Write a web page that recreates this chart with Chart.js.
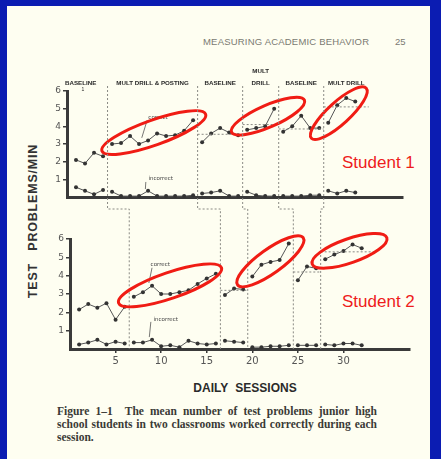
<!DOCTYPE html>
<html>
<head>
<meta charset="utf-8">
<script src="https://cdn.jsdelivr.net/npm/chart.js@4.4.1/dist/chart.umd.min.js"></script>
<style>
html, body { margin: 0; padding: 0; width: 441px; height: 459px; overflow: hidden; background: #0b1cb2; }
#page { position: absolute; left: 7px; top: 6px; width: 423px; height: 453px; background: #fefef1; }
canvas { position: absolute; left: 0; top: 0; }
.txt { position: absolute; white-space: nowrap; }
#runhead { left: 203px; top: 36px; font: 9.5px 'Liberation Sans', sans-serif; color: #7a7a72; letter-spacing: 0.2px; }
#pageno { left: 395px; top: 36px; font: 9.5px 'Liberation Sans', sans-serif; color: #7a7a72; }
#ytitle { left: 33px; top: 221px; transform: translate(-50%, -50%) rotate(-90deg); font: bold 12.5px 'Liberation Sans', sans-serif; color: #333; letter-spacing: 0.8px; word-spacing: 8px; }
#xtitle { left: 245px; top: 388px; transform: translate(-50%, -50%); font: bold 12px 'Liberation Sans', sans-serif; color: #2a2a2a; word-spacing: 4px; }
#caption { position: absolute; left: 57px; top: 405px; width: 320px; font: bold 11.5px 'Liberation Serif', serif; line-height: 13px; color: #3a3a36; }
#caption .j { text-align: justify; text-align-last: justify; }
.student { font: 17px 'Liberation Sans', Arial, sans-serif; color: #ee1c1c; transform: translateY(-50%); }
</style>
</head>
<body>
<div id="page"></div>
<div class="txt" id="runhead">MEASURING ACADEMIC BEHAVIOR</div>
<div class="txt" id="pageno">25</div>
<div class="txt" id="ytitle">TEST PROBLEMS/MIN</div>
<div class="txt" id="xtitle">DAILY SESSIONS</div>
<div id="caption">
  <div class="j">Figure 1–1&nbsp; The mean number of test problems junior high</div>
  <div class="j">school students in two classrooms worked correctly during each</div>
  <div>session.</div>
</div>
<div class="txt student" style="left:342px; top:163px;">Student 1</div>
<div class="txt student" style="left:342px; top:302px;">Student 2</div>
<canvas id="topChart" width="441" height="459"></canvas>
<canvas id="bottomChart" width="441" height="459"></canvas>
<script>
// sessions and values
const sessions = [1,2,3,4,5,6,7,8,9,10,11,12,13,14,15,16,17,18,19,20,21,22,23,24,25,26,27,28,29,30,31,32];

const topCorrect = [2.1,1.9,2.5,2.3, 3.0,3.05,3.45,3.0,3.2,3.6,3.45,3.5,3.75,4.35, 3.1,3.6,3.9,3.65,3.5, 3.8,3.9,4.0,5.0, 3.7,4.0,4.6,3.9,3.9, 4.2,5.2,5.6,5.4];
const topIncorrect = [0.55,0.35,0.15,0.4, 0.3,0.05,0.05,0.05,0.35,0.05,0.05,0.05,0.05,0.1, 0.2,0.25,0.35,0.05,0.05, 0.3,0.1,0.05,0.05, 0.05,0.05,0.05,0.1,0.1, 0.35,0.2,0.35,0.25];
const topPhaseStarts = [1,5,15,20,24,29];
const topPhaseMeans = [null,null,3.55,4.1,3.85,5.1];

const bottomCorrect = [2.15,2.45,2.25,2.5,1.6,2.3, 2.85,3.1,3.45,3.0,3.0,3.1,3.2,3.55,3.85,4.1, 2.95,3.3,3.25, 3.95,4.6,4.75,4.85,5.75, 3.75,4.5,4.4, 4.9,5.15,5.35,5.7,5.5];
const bottomIncorrect = [0.25,0.35,0.5,0.25,0.4,0.3, 0.35,0.35,0.5,0.15,0.2,0.1,0.45,0.3,0.25,0.3, 0.45,0.4,0.35, 0.1,0.1,0.15,0.15,0.2, 0.2,0.2,0.2, 0.25,0.2,0.3,0.3,0.2];
const bottomPhaseStarts = [1,7,17,20,25,28];
const bottomPhaseMeans = [null,null,3.2,null,4.2,5.3];

const phaseNames = ['BASELINE', 'MULT DRILL & POSTING', 'BASELINE', 'MULT\nDRILL', 'BASELINE', 'MULT DRILL'];
const xTickValues = [5,10,15,20,25,30];
const yTickValues = [1,2,3,4,5,6];

Chart.defaults.font.family = "'DejaVu Sans', sans-serif";

const RED = '#f01c14';
const INK = '#3a3a3a';
const DASH = '#8a8a84';

function phaseSets(values, starts) {
    return starts.map((s, i) => {
        const e = i + 1 < starts.length ? starts[i + 1] : Infinity;
        const pts = [];
        sessions.forEach((x, k) => {
            if (x >= s && x < e) pts.push({ x: x, y: values[k] });
        });
        return {
            data: pts,
            borderColor: '#555',
            borderWidth: 1,
            pointRadius: 2,
            pointBackgroundColor: '#333',
            pointBorderWidth: 0,
            tension: 0,
            clip: false
        };
    });
}

// extra marks per chart: phase means, notes, red ellipses
const extras = {
    topChart: {
        starts: topPhaseStarts,
        means: topPhaseMeans,
        names: phaseNames,
        notes: [
            { text: 'correct', at: [10.1, 4.5], from: [8.9, 4.35], to: [8.3, 3.35] },
            { text: 'incorrect', at: [10.4, 1.02], from: [8.75, 0.85], to: [8.7, 0.45] }
        ],
        rings: [
            { p1: [3.88, 2.60], p2: [15.39, 4.69], b: 12.5 },
            { p1: [18.27, 3.67], p2: [26.36, 5.48], b: 11 },
            { p1: [27.13, 3.33], p2: [33.22, 6.16], b: 11 }
        ]
    },
    bottomChart: {
        starts: bottomPhaseStarts,
        means: bottomPhaseMeans,
        names: null,
        notes: [
            { text: 'correct', at: [9.9, 4.6], from: [9.0, 4.43], to: [8.65, 3.6] },
            { text: 'incorrect', at: [10.5, 1.58], from: [8.87, 1.48], to: [8.7, 0.65] }
        ],
        rings: [
            { p1: [5.33, 2.51], p2: [16.62, 4.43], b: 13 },
            { p1: [18.38, 3.50], p2: [25.58, 6.07], b: 12 },
            { p1: [26.57, 4.64], p2: [34.76, 6.07], b: 12 }
        ]
    }
};

let topChart = null;

const bookMarks = {
    id: 'bookMarks',
    afterDraw(chart) {
        const cfg = extras[chart.canvas.id];
        const ctx = chart.ctx;
        const xs = chart.scales.x, ys = chart.scales.y;
        const lastEnd = sessions[sessions.length - 1] + 1.5;
        ctx.save();

        // phase mean lines
        ctx.strokeStyle = DASH;
        ctx.lineWidth = 1;
        ctx.setLineDash([2, 2]);
        cfg.means.forEach((m, i) => {
            if (m === null) return;
            const x0 = xs.getPixelForValue(cfg.starts[i] - 0.5);
            const x1 = xs.getPixelForValue(i + 1 < cfg.starts.length ? cfg.starts[i + 1] - 0.5 : lastEnd);
            const y = ys.getPixelForValue(m);
            ctx.beginPath(); ctx.moveTo(x0, y); ctx.lineTo(x1, y); ctx.stroke();
        });

        // phase connectors, drawn once both charts exist
        if (chart.canvas.id === 'bottomChart' && topChart) {
            const tx = topChart.scales.x;
            const yStep = topChart.chartArea.bottom + 12;
            for (let i = 1; i < topPhaseStarts.length; i++) {
                const xt = tx.getPixelForValue(topPhaseStarts[i] - 0.5);
                const xb = xs.getPixelForValue(bottomPhaseStarts[i] - 0.5);
                ctx.beginPath();
                ctx.moveTo(xt, topChart.chartArea.top - 5);
                ctx.lineTo(xt, yStep);
                ctx.lineTo(xb, yStep);
                ctx.lineTo(xb, chart.chartArea.bottom);
                ctx.stroke();
            }
        }
        ctx.setLineDash([]);

        // phase names above the top panel
        if (cfg.names) {
            ctx.fillStyle = '#2a2a2a';
            ctx.font = "bold 6.2px 'Liberation Sans', sans-serif";
            ctx.textBaseline = 'middle';
            const yl = chart.chartArea.top - 8;
            cfg.names.forEach((name, i) => {
                const a = cfg.starts[i] - 0.5;
                const b = i + 1 < cfg.starts.length ? cfg.starts[i + 1] - 0.5 : lastEnd;
                const lines = name.split('\n');
                let x;
                if (i === 0) { ctx.textAlign = 'left'; x = xs.getPixelForValue(xs.min) - 2; }
                else { ctx.textAlign = 'center'; x = xs.getPixelForValue((a + b) / 2); }
                lines.forEach((ln, j) => ctx.fillText(ln, x, yl - (lines.length - 1 - j) * 12));
            });
            ctx.textAlign = 'center';
            ctx.font = "5px 'Liberation Sans', sans-serif";
            ctx.fillText('1', xs.getPixelForValue(xs.min) + 16, yl + 7);
        }

        // correct / incorrect notes
        ctx.fillStyle = '#444';
        ctx.strokeStyle = '#555';
        ctx.lineWidth = 0.8;
        ctx.font = "5.5px 'DejaVu Sans', sans-serif";
        ctx.textAlign = 'center';
        ctx.textBaseline = 'middle';
        cfg.notes.forEach(n => {
            ctx.fillText(n.text, xs.getPixelForValue(n.at[0]), ys.getPixelForValue(n.at[1]));
            ctx.beginPath();
            ctx.moveTo(xs.getPixelForValue(n.from[0]), ys.getPixelForValue(n.from[1]));
            ctx.lineTo(xs.getPixelForValue(n.to[0]), ys.getPixelForValue(n.to[1]));
            ctx.stroke();
        });

        // red rings
        ctx.strokeStyle = RED;
        ctx.lineWidth = 3;
        cfg.rings.forEach(r => {
            const x1 = xs.getPixelForValue(r.p1[0]), y1 = ys.getPixelForValue(r.p1[1]);
            const x2 = xs.getPixelForValue(r.p2[0]), y2 = ys.getPixelForValue(r.p2[1]);
            const a = Math.hypot(x2 - x1, y2 - y1) / 2;
            const ang = Math.atan2(y2 - y1, x2 - x1);
            ctx.beginPath();
            ctx.ellipse((x1 + x2) / 2, (y1 + y2) / 2, a, r.b, ang, 0, Math.PI * 2);
            ctx.stroke();
        });
        ctx.restore();
    }
};

function panel(id, correct, incorrect, starts, pad, xLabels) {
    return new Chart(document.getElementById(id), {
        type: 'line',
        data: { datasets: phaseSets(correct, starts).concat(phaseSets(incorrect, starts)) },
        options: {
            responsive: false,
            animation: false,
            events: [],
            layout: { padding: pad },
            plugins: { legend: { display: false }, tooltip: { enabled: false } },
            scales: {
                x: {
                    type: 'linear',
                    min: 0,
                    max: 37.3,
                    afterBuildTicks: s => { s.ticks = xTickValues.map(v => ({ value: v })); },
                    ticks: { display: xLabels, color: '#555', font: { size: 10 }, padding: 2, maxRotation: 0, autoSkip: false },
                    grid: { drawOnChartArea: false, drawTicks: xLabels, tickLength: 4, color: INK, lineWidth: 1.5 },
                    border: { width: 3, color: INK },
                    afterFit: s => { s.height = xLabels ? 20 : 10; }
                },
                y: {
                    min: 0,
                    max: 6,
                    afterBuildTicks: s => { s.ticks = yTickValues.map(v => ({ value: v })); },
                    ticks: { color: '#555', font: { size: 9 }, padding: 2 },
                    grid: { drawOnChartArea: false, tickLength: 4, color: INK, lineWidth: 1.5 },
                    border: { width: 3, color: INK },
                    afterFit: s => { s.width = 20; }
                }
            }
        },
        plugins: [bookMarks]
    });
}

topChart = panel('topChart', topCorrect, topIncorrect, topPhaseStarts,
    { left: 47, right: 38, top: 91, bottom: 252 }, false);
panel('bottomChart', bottomCorrect, bottomIncorrect, bottomPhaseStarts,
    { left: 50, right: 31, top: 239, bottom: 90 }, true);
</script>
</body>
</html>
